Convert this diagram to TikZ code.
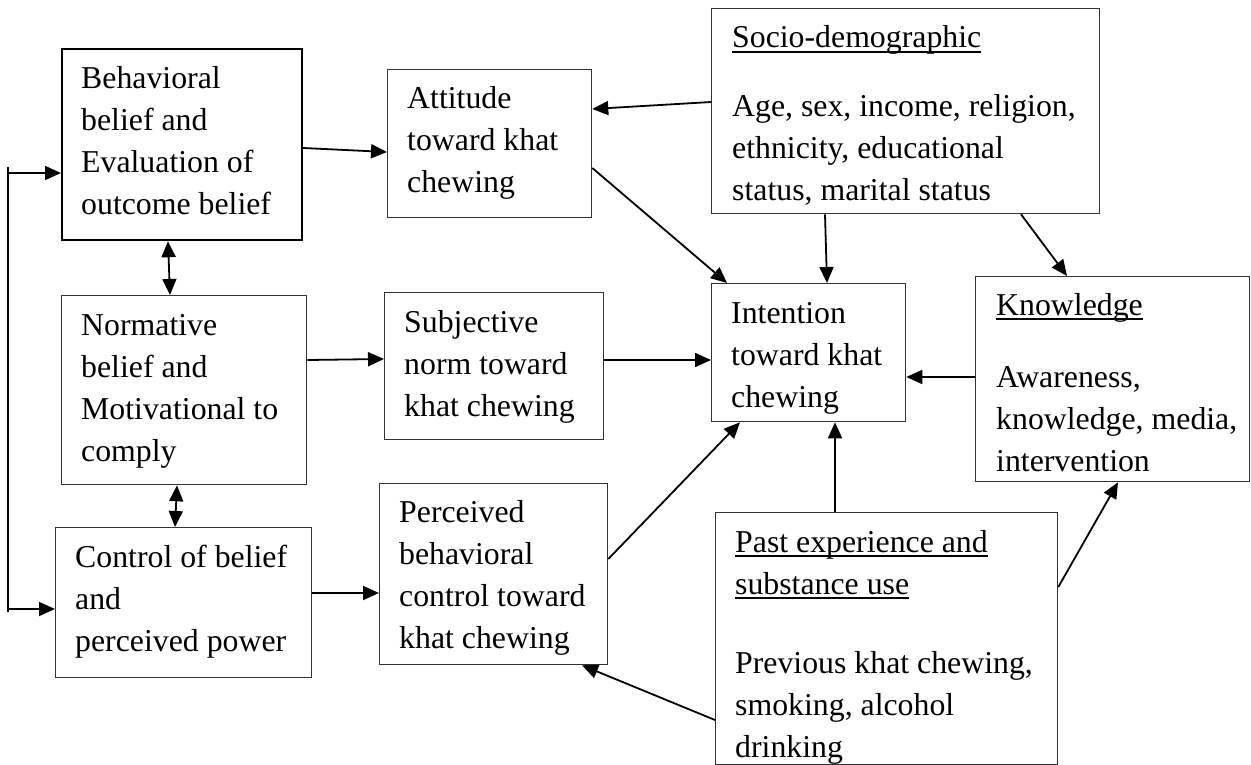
\documentclass[tikz,border=0pt]{standalone}
\usepackage{fontspec}
\setmainfont{Liberation Serif}
\usetikzlibrary{arrows.meta}
\newcommand\hdul[1]{\setbox0\hbox{#1}\rlap{\rule[-5pt]{\wd0}{1.8pt}}\box0}
\begin{document}
\begin{tikzpicture}[x=1pt,y=-1pt,
  font=\fontsize{31.8}{42}\selectfont,
  box/.style={draw=black!80, line width=1.3pt, inner sep=0pt, anchor=north west},
  txt/.style={anchor=base west, inner sep=0pt},
  arr/.style={line width=1.8pt, -{Triangle[length=16pt,width=14pt]}},
  darr/.style={line width=1.8pt, {Triangle[length=16pt,width=14pt]}-{Triangle[length=16pt,width=14pt]}}]
\fill[white] (0,0) rectangle (1251,765);
\useasboundingbox (0,0) rectangle (1251,765);
% boxes
\node[box, draw=black, line width=2.2pt, minimum width=240pt, minimum height=191pt] (beh) at (61,48) {};
\node[box, minimum width=245pt, minimum height=189pt] (norm) at (61,295) {};
\node[box, minimum width=256pt, minimum height=150pt] (ctrl) at (55,527) {};
\node[box, minimum width=204pt, minimum height=148pt] (att) at (387,69) {};
\node[box, minimum width=219pt, minimum height=147pt] (subj) at (384,292) {};
\node[box, minimum width=228pt, minimum height=181pt] (perc) at (379,483) {};
\node[box, minimum width=194pt, minimum height=138pt] (int) at (711,283) {};
\node[box, minimum width=388pt, minimum height=205pt] (socio) at (711,8) {};
\node[box, minimum width=274pt, minimum height=205pt] (know) at (975,276) {};
\node[box, minimum width=342pt, minimum height=252pt] (past) at (715,512) {};
% texts
\node[txt] (behT) at (81,89) {\begin{tabular}[t]{@{}l@{}}Behavioral\\belief and\\Evaluation of\\outcome belief\end{tabular}};
\node[txt] (normT) at (81,335) {\begin{tabular}[t]{@{}l@{}}Normative\\belief and\\Motivational to\\comply\end{tabular}};
\node[txt] (ctrlT) at (75,567) {\begin{tabular}[t]{@{}l@{}}Control of belief\\and\\perceived power\end{tabular}};
\node[txt] (attT) at (407,109) {\begin{tabular}[t]{@{}l@{}}Attitude\\toward khat\\chewing\end{tabular}};
\node[txt] (subjT) at (404,332) {\begin{tabular}[t]{@{}l@{}}Subjective\\norm toward\\khat chewing\end{tabular}};
\node[txt] (percT) at (399,522) {\begin{tabular}[t]{@{}l@{}}Perceived\\behavioral\\control toward\\khat chewing\end{tabular}};
\node[txt] (intT) at (731,323) {\begin{tabular}[t]{@{}l@{}}Intention\\toward khat\\chewing\end{tabular}};
\node[txt] (socioT) at (732,48) {\begin{tabular}[t]{@{}l@{}}\hdul{Socio-demographic}\\[27pt]Age, sex, income, religion,\\ethnicity, educational\\status, marital status\end{tabular}};
\node[txt] (knowT) at (996,315) {\begin{tabular}[t]{@{}l@{}}\hdul{Knowledge}\\[30pt]Awareness,\\knowledge, media,\\intervention\end{tabular}};
\node[txt] (pastT) at (735,552) {\begin{tabular}[t]{@{}l@{}}\hdul{Past experience and}\\\hdul{substance use}\\[37pt]Previous khat chewing,\\smoking, alcohol\\drinking\end{tabular}};
% left bracket
\coordinate (lt) at (8,167);
\coordinate (lb) at (8,612);
\draw[line width=1.8pt] (lt) -- (lb);
\draw[arr] (lt |- 0,173) -- (beh.west |- 0,173);
\draw[arr] (lb |- 0,609) -- (ctrl.west |- 0,609);
% double arrows
\draw[darr] (beh.south -| 168,0) -- (norm.north -| 170,0);
\draw[darr] (norm.south -| 177,0) -- (ctrl.north -| 175,0);
% horizontal flows
\draw[arr] (beh.east |- 0,148) -- (att.west |- 0,152);
\draw[arr] (norm.east |- 0,360) -- (subj.west |- 0,359);
\draw[arr] (ctrl.east |- 0,593) -- (perc.west |- 0,593);
\draw[arr] (socio.west |- 0,102) -- (att.east |- 0,109);
% into intention
\draw[arr] (att.east |- 0,168) -- (int.north -| 727,0);
\draw[arr] (socio.south -| 825,0) -- (int.north -| 827,0);
\draw[arr] (subj.east |- 0,360) -- (int.west |- 0,360);
\draw[arr] (know.west |- 0,377) -- (int.east |- 0,377);
\draw[arr] (past.north -| 835,0) -- (int.south -| 835,0);
\draw[arr] (perc.east |- 0,559) -- (int.south -| 740,0);
% others
\draw[arr] (socio.south -| 1021,0) -- (know.north -| 1067,0);
\draw[arr] (past.east |- 0,587) -- (know.south -| 1118,0);
\draw[arr] (past.west |- 0,720) -- (perc.south -| 582,0);
\end{tikzpicture}
\end{document}
